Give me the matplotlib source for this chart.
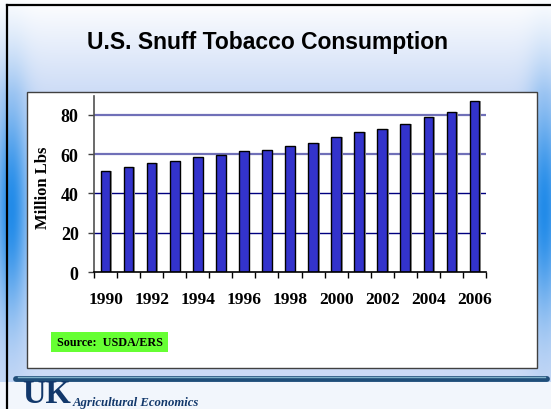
import numpy as np
import matplotlib
matplotlib.use("Agg")
import matplotlib.pyplot as plt
from matplotlib.patches import Rectangle

# ---- data ----
years = list(range(1990, 2007))
values = [51.2, 53.3, 55.6, 56.6, 58.3, 59.4, 61.4, 61.9, 63.9, 65.5,
          68.5, 71.0, 72.6, 75.4, 79.0, 81.2, 86.8]
yticks = [0, 20, 40, 60, 80]
title = "U.S. Snuff Tobacco Consumption"
ylabel = "Million Lbs"
source = "Source:  USDA/ERS"

W, H = 551, 410
fig = plt.figure(figsize=(W / 100, H / 100), dpi=100)

# ---- background (pixel coordinates) ----
bg = fig.add_axes([0, 0, 1, 1])
bg.set_xlim(0, W)
bg.set_ylim(H, 0)
bg.axis("off")

yy, xx = np.mgrid[0:H, 0:W].astype(float)
white = np.array([1.0, 1.0, 1.0])
light = np.array([0.80, 0.86, 0.965])
strong = np.array([0.10, 0.53, 0.91])
t = np.clip(yy / 95.0, 0, 1)[..., None]
base = white * (1 - t) + light * t
d = np.minimum(np.abs(xx - 11), np.abs(xx - 544))
wx = np.exp(-(d / 17.0) ** 2)
v = np.exp(-((yy - 210) / 105.0) ** 2)
w = (0.95 * wx * v)[..., None]
img = base * (1 - w) + strong * w
img[383:, :, :] = np.array([0.95, 0.965, 0.99])
bg.imshow(img, extent=(0, W, H, 0), aspect="auto", zorder=0, interpolation="bilinear")

# frame borders
bg.plot([7, 7], [6, H], color="black", lw=1.6, zorder=1)
bg.plot([7, W], [6, 6], color="black", lw=1.6, zorder=1)

# white chart box
bg.add_patch(Rectangle((26.7, 92.7), 510, 276.5, facecolor="white",
                       edgecolor="#404040", lw=1.0, zorder=2))

# separator bar
bg.plot([16, 547], [379.5, 379.5], color="#1f4e79", lw=4.2,
        solid_capstyle="round", zorder=3)
bg.plot([18, 545], [378, 378], color="#7fb0c8", lw=1.0, zorder=4)

# title
bg.text(267.5, 42, title, ha="center", va="center", fontsize=16.5,
        fontweight="bold", family="Liberation Sans", color="black", zorder=5)

# y label
bg.text(43, 188, ylabel, ha="center", va="center", rotation=90,
        fontsize=12, fontweight="bold", family="Liberation Serif", zorder=5)

# source box
bg.add_patch(Rectangle((51, 333), 117, 20, facecolor="#66ff33",
                       edgecolor="none", zorder=5))
bg.text(109.5, 343.5, source, ha="center", va="center", fontsize=8.7,
        fontweight="bold", family="Liberation Serif", zorder=6)

# logo
bg.text(22, 410, "UK", ha="left", va="bottom", fontsize=23.5,
        fontweight="bold", family="Liberation Serif", color="#12386b", zorder=6)
bg.text(73, 406.5, "Agricultural Economics", ha="left", va="baseline",
        fontsize=9.2, fontweight="bold", style="italic",
        family="Liberation Serif", color="#12386b", zorder=6)

# ---- chart ----
ax = fig.add_axes([94 / W, 1 - 273 / H, 392 / W, 176 / H])
ax.patch.set_alpha(0)
x = np.arange(len(years))
ax.bar(x + 0.07, values, width=0.42, color="#9a9a9a", edgecolor="none", zorder=2)
ax.bar(x, values, width=0.42, color="#3333cc", edgecolor="black", lw=1.0, zorder=3)

ax.set_xlim(-0.5, len(years) - 0.5)
ax.set_ylim(0, 89.5)
ax.set_yticks(yticks)
ax.set_yticklabels([str(v) for v in yticks])
ax.set_xticks(x[::2])
ax.set_xticklabels([str(y) for y in years[::2]])
ax.set_xticks(np.arange(-0.5, len(years), 1.0), minor=True)

ax.tick_params(axis="x", which="major", length=0, pad=13.5)
ax.tick_params(axis="x", which="minor", length=4.5, width=1, color="black", direction="out")
ax.tick_params(axis="y", length=4.5, width=1, color="#404040", pad=6.5)
for lab in ax.get_xticklabels():
    lab.set_fontfamily("Liberation Serif")
    lab.set_fontweight("bold")
    lab.set_fontsize(12.5)
for lab in ax.get_yticklabels():
    lab.set_fontfamily("Liberation Serif")
    lab.set_fontweight("bold")
    lab.set_fontsize(13)

ax.set_axisbelow(True)
ax.yaxis.grid(True)
gcolors = {0: "none", 20: "#000080", 40: "#000080", 60: "#7070b8", 80: "#7070b8"}
gwidths = {0: 1, 20: 1.0, 40: 1.0, 60: 1.6, 80: 1.6}
for tv, gl in zip(yticks, ax.get_ygridlines()):
    gl.set_color(gcolors[tv])
    gl.set_linewidth(gwidths[tv])

for s in ["top", "right"]:
    ax.spines[s].set_visible(False)
ax.spines["left"].set_color("#505050")
ax.spines["left"].set_linewidth(1.2)
ax.spines["bottom"].set_color("black")
ax.spines["bottom"].set_linewidth(1.2)
ax.spines["bottom"].set_zorder(5)

fig.savefig("out.png", dpi=100)
